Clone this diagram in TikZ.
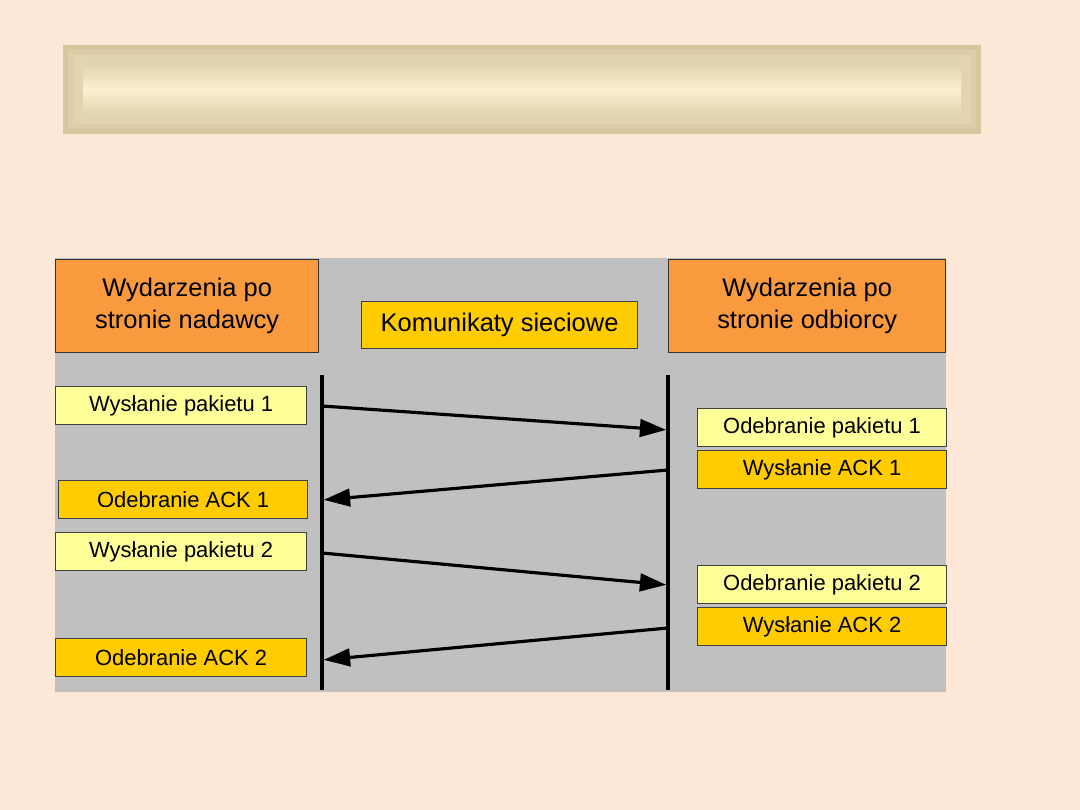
\documentclass[tikz,border=0pt]{standalone}
\usepackage{fontspec}
\setmainfont{Liberation Sans}
\usetikzlibrary{positioning, arrows.meta}

\definecolor{peach}{HTML}{FDE8D8}
\definecolor{panelgray}{HTML}{C0C0C0}
\definecolor{headorange}{HTML}{F99A3E}
\definecolor{gold}{HTML}{FFCC00}
\definecolor{paleyellow}{HTML}{FFFF99}
\definecolor{frameA}{HTML}{D6C7A1}
\definecolor{frameB}{HTML}{DDCEA9}
\definecolor{frameC}{HTML}{E3D4B0}
\definecolor{frameD}{HTML}{FBEFD0}

\begin{document}
\begin{tikzpicture}[x=0.02cm,y=-0.02cm,
    head/.style={draw=black!80,fill=headorange,line width=0.8pt,align=center,
      minimum height=1.86cm,anchor=north west,inner sep=2pt,
      font=\fontsize{14.5}{18}\selectfont},
    event/.style={draw=black!75,line width=0.7pt,minimum width=4.98cm,
      minimum height=0.76cm,anchor=north west,inner sep=1pt,
      font=\fontsize{12.5}{15}\selectfont},
    send/.style={event,fill=paleyellow},
    ack/.style={event,fill=gold},
    life/.style={line width=2.1pt},
    msg/.style={-{Triangle[length=15pt,width=10pt]},line width=1.8pt,shorten >=1pt}]

    % background and title bar
    \fill[peach] (0,0) rectangle (1080,810);
    \useasboundingbox (0,0) rectangle (1080,810);
    \fill[frameA] (63,45) rectangle (981,134);
    \fill[frameB] (68,50) rectangle (976,129);
    \fill[frameC] (73,55) rectangle (971,124);
    \shade[top color=frameC,bottom color=frameC,middle color=frameD] (83,64) rectangle (961,115);

    % panel
    \fill[panelgray] (55,258) rectangle (946,692);

    \node[head,minimum width=5.26cm] (sender) at (55,259) {Wydarzenia po\\stronie nadawcy};
    \node[head,minimum width=5.54cm] (receiver) at (668,259) {Wydarzenia po\\stronie odbiorcy};
    \node[ack,minimum width=5.52cm,minimum height=0.94cm,font=\fontsize{14.5}{17}\selectfont]
        (network) at (361,301) {Komunikaty sieciowe};

    % lifelines
    \coordinate (sTop) at (322,375);
    \coordinate (sBot) at (322,690);
    \coordinate (rTop) at (668,375);
    \coordinate (rBot) at (668,690);
    \draw[life] (sTop) -- (sBot);
    \draw[life] (rTop) -- (rBot);

    % sender events
    \node[send,minimum width=5.02cm] (sendP1) at (55,386) {Wysłanie pakietu 1};
    \node[ack] (recvA1) at (58,480) {Odebranie ACK 1};
    \node[send,minimum width=5.02cm] (sendP2) at (55,532) {Wysłanie pakietu 2};
    \node[ack,minimum width=5.02cm] (recvA2) at (55,638) {Odebranie ACK 2};

    % receiver events
    \node[send] (recvP1) at (697,408) {Odebranie pakietu 1};
    \node[ack] (sendA1) [below=0.06cm of recvP1] {Wysłanie ACK 1};
    \node[send] (recvP2) at (697,565) {Odebranie pakietu 2};
    \node[ack] (sendA2) [below=0.06cm of recvP2] {Wysłanie ACK 2};

    % messages
    \coordinate (s1) at (322,406);
    \coordinate (r1) at (668,430);
    \coordinate (r2) at (668,470);
    \coordinate (s2) at (322,500);
    \coordinate (s3) at (322,553);
    \coordinate (r3) at (668,585);
    \coordinate (r4) at (668,628);
    \coordinate (s4) at (322,660);

    \draw[msg] (s1) -- (r1);
    \draw[msg] (r2) -- (s2);
    \draw[msg] (s3) -- (r3);
    \draw[msg] (r4) -- (s4);
\end{tikzpicture}
\end{document}
